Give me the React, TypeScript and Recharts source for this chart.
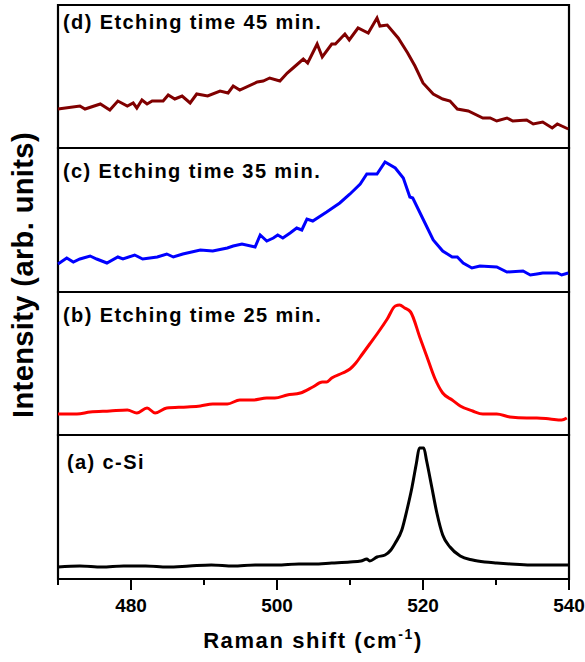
import { Line, LineChart, ReferenceArea, XAxis, YAxis } from "recharts";

// Raman shift (cm-1) / intensity pairs
const spectrumD: [number, number][] = [
  [470, 39], [473, 42], [473.7, 39], [475.8, 44], [477.1, 38], [478.2, 47], [479.5, 42], [480.3, 45],
  [480.8, 40], [481.5, 48], [482.2, 44], [482.9, 47], [484.4, 47], [485.1, 53], [486, 49], [487, 52],
  [488.1, 45], [489, 54], [490.5, 52], [492.2, 57], [493.3, 55], [494, 62], [494.9, 58], [497.3, 66],
  [498.1, 67], [499, 70], [500.4, 67], [501.4, 75], [502.2, 80], [503.6, 89], [504.2, 85], [505.5, 104],
  [506.2, 91], [507.5, 104], [508, 104], [509.3, 114], [509.9, 108], [511.1, 120], [512.5, 115],
  [513.7, 130], [514.1, 122], [515.1, 123], [516.6, 110], [517.9, 95], [518.9, 82], [520, 65],
  [521.4, 54], [522.7, 49], [523.7, 47], [524.7, 39], [526.2, 37], [528.2, 30], [529.2, 30], [530.1, 27],
  [531.5, 30], [532.3, 27], [534.2, 28], [535.1, 24], [536.4, 26], [537.7, 20], [538.4, 24], [539.9, 19],
];

const spectrumC: [number, number][] = [
  [470, 28], [471.2, 34], [472.1, 30], [473, 33], [474.4, 36], [475.3, 33], [476.7, 29], [478.2, 35],
  [478.9, 33], [480.5, 37], [481.6, 33], [483.6, 35], [484.9, 38], [485.8, 35], [487.1, 38], [489.5, 42],
  [491.2, 41], [493.2, 44], [494, 46], [495.2, 48], [497, 45], [497.7, 57], [498.6, 51], [499.5, 54],
  [500.1, 57], [500.8, 54], [501.8, 59], [502.7, 64], [503.4, 62], [504.1, 73], [504.9, 71], [506.8, 80],
  [508.6, 89], [510, 98], [511.4, 108], [512.3, 118], [513.7, 118], [514.8, 130], [516.2, 124],
  [517.3, 114], [518.2, 95], [518.6, 94], [520, 73], [521.4, 52], [522.7, 41], [524, 35], [524.7, 35],
  [525.5, 29], [526.7, 24], [527.8, 26], [530.1, 25], [531.5, 20], [533.7, 21], [534.7, 17], [535.6, 18],
  [536.4, 19], [538.4, 19], [539, 17], [539.9, 19],
];

const spectrumB: [number, number][] = [
  [470, 21], [472.6, 21], [474.4, 23], [477.1, 24], [479.5, 25], [480.8, 22], [482.2, 27], [483.3, 22],
  [484.9, 27], [487.7, 28], [489.5, 29], [491.2, 31], [493.2, 31], [494.9, 35], [496.7, 35], [498.6, 37],
  [499.7, 37], [501.4, 40], [503.2, 42], [504.9, 48], [506.2, 53], [506.8, 53], [507.5, 57], [509, 62],
  [510, 66], [510.8, 72], [511.6, 80], [512.7, 91], [513.8, 102], [515.1, 116], [516.2, 129], [516.8, 130],
  [517.5, 127], [518.3, 123], [519.6, 97], [520.5, 79], [521.6, 57], [522.7, 42], [524, 35], [525.1, 29],
  [526.8, 24], [528.2, 21], [530.1, 21], [531.9, 18], [534.2, 17], [535.6, 17], [537.4, 16], [539, 15],
  [539.7, 17],
];

const spectrumA: [number, number][] = [
  [470, 12], [473, 13], [476, 12], [479, 13], [482, 13], [485, 12], [488, 13], [491, 14], [494, 13],
  [497, 14], [500, 14], [503, 15], [505, 15], [507.5, 16], [510, 17], [511.5, 18], [512.3, 20], [512.7, 18],
  [513.7, 22], [514.8, 24], [515.6, 29], [516.2, 36], [517.1, 49], [517.8, 69], [518.5, 92], [519.1, 116],
  [519.5, 131], [520.1, 131], [520.5, 118], [521.2, 92], [521.9, 66], [522.7, 44], [523.7, 32], [525.1, 23],
  [526.8, 19], [528.5, 17], [530.1, 16], [532, 15], [534.7, 14], [537, 14], [539.9, 14],
];

const panelLabels = [
  "(d) Etching time 45 min.",
  "(c) Etching time 35 min.",
  "(b) Etching time 25 min.",
  "(a) c-Si",
];
const shiftTicks = [470, 480, 490, 500, 510, 520, 530, 540];

const font = "'Liberation Sans', Arial, sans-serif";
const LEFT = 58;
const PLOT_W = 511;

const panels = [
  { data: spectrumD, color: "#800000", top: 5, height: 143, labelY: 29, labelX: 63, curve: "linear" },
  { data: spectrumC, color: "#0000ff", top: 148, height: 144, labelY: 178, labelX: 63, curve: "linear" },
  { data: spectrumB, color: "#ff0000", top: 292, height: 143, labelY: 322, labelX: 63, curve: "monotone" },
  { data: spectrumA, color: "#000000", top: 435, height: 144, labelY: 469, labelX: 67, curve: "monotone" },
];

function ShiftTick({ x, y, payload }: any) {
  const major = payload.value % 20 === 0;
  return (
    <g>
      <line x1={x} x2={x} y1={y} y2={y + (major ? 11 : 6)} stroke="#000" strokeWidth={2} />
      {major && (
        <text x={x} y={y + 33} textAnchor="middle" fontSize={19} fontWeight="bold" fill="#000" fontFamily={font}>
          {payload.value}
        </text>
      )}
    </g>
  );
}

export default function App() {
  return (
    <div style={{ position: "absolute", left: 0, top: 0, width: 585, height: 662, background: "#fff", fontFamily: font }}>
      {panels.map((p, i) => {
        const last = i === panels.length - 1;
        const rows = p.data.map(([x, v]) => ({ x, v }));
        return (
          <div key={i} style={{ position: "absolute", left: LEFT - 2, top: p.top - 2 }}>
            <LineChart
              width={PLOT_W + 4 + (last ? 24 : 0)}
              height={p.height + 4 + (last ? 38 : 0)}
              data={rows}
              margin={{ top: 2, right: last ? 26 : 2, bottom: last ? 0 : 2, left: 2 }}
            >
              <XAxis
                dataKey="x"
                type="number"
                domain={[470, 540]}
                ticks={shiftTicks}
                interval={0}
                hide={!last}
                height={40}
                axisLine={false}
                tickLine={false}
                tickSize={0}
                tickMargin={0}
                tick={<ShiftTick />}
              />
              <YAxis hide domain={[0, p.height]} />
              <Line
                type={p.curve as any}
                dataKey="v"
                stroke={p.color}
                strokeWidth={3}
                dot={false}
                isAnimationActive={false}
              />
              <ReferenceArea
                x1={470}
                x2={540}
                y1={0}
                y2={p.height}
                fill="none"
                stroke="#000"
                strokeWidth={2.2}
                ifOverflow="visible"
              />
            </LineChart>
          </div>
        );
      })}
      <svg width={585} height={662} style={{ position: "absolute", left: 0, top: 0, pointerEvents: "none" }}>
        {panels.map((p, i) => (
          <text
            key={i}
            x={p.labelX}
            y={p.labelY}
            fontSize={20}
            fontWeight="bold"
            letterSpacing={1.4}
            fill="#000"
            fontFamily={font}
          >
            {panelLabels[i]}
          </text>
        ))}
        <text
          transform="translate(33 275) rotate(-90)"
          textAnchor="middle"
          fontSize={29}
          fontWeight="bold"
          letterSpacing={0.4}
          fill="#000"
          fontFamily={font}
        >
          Intensity (arb. units)
        </text>
        <text x={313} y={648} textAnchor="middle" fontSize={22} fontWeight="bold" letterSpacing={1.6} fill="#000" fontFamily={font}>
          Raman shift (cm
          <tspan fontSize={14} dy={-9}>-1</tspan>
          <tspan dy={9}>)</tspan>
        </text>
      </svg>
    </div>
  );
}
